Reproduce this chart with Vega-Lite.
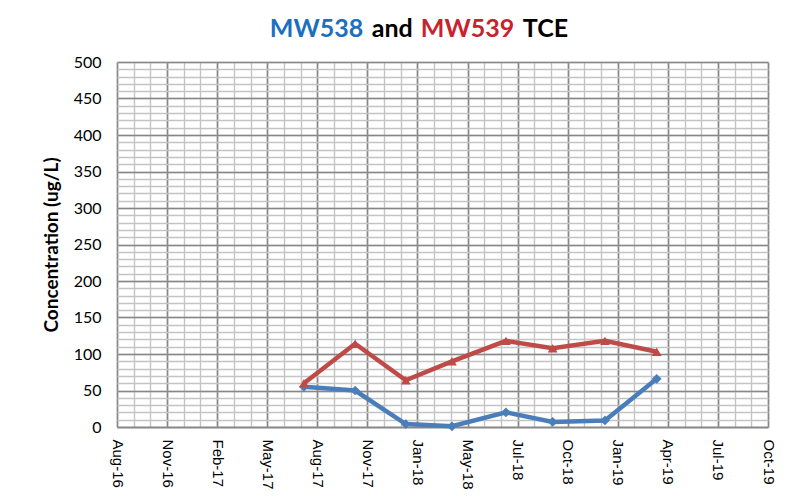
{
  "$schema": "https://vega.github.io/schema/vega-lite/v6.json",
  "padding": {"left": 42, "top": 16, "right": 10, "bottom": 5},
  "background": "white",
  "config": {"view": {"stroke": null}, "font": "Liberation Sans"},
  "datasets": {
    "conc": [
      {"date": "2017-07-11", "well": "MW538", "value": 55},
      {"date": "2017-10-11", "well": "MW538", "value": 50},
      {"date": "2018-01-10", "well": "MW538", "value": 4},
      {"date": "2018-04-03", "well": "MW538", "value": 1},
      {"date": "2018-07-09", "well": "MW538", "value": 20},
      {"date": "2018-10-01", "well": "MW538", "value": 7},
      {"date": "2019-01-03", "well": "MW538", "value": 9},
      {"date": "2019-04-06", "well": "MW538", "value": 66},
      {"date": "2017-07-11", "well": "MW539", "value": 60},
      {"date": "2017-10-11", "well": "MW539", "value": 114},
      {"date": "2018-01-10", "well": "MW539", "value": 64},
      {"date": "2018-04-03", "well": "MW539", "value": 90},
      {"date": "2018-07-09", "well": "MW539", "value": 118},
      {"date": "2018-10-01", "well": "MW539", "value": 108},
      {"date": "2019-01-03", "well": "MW539", "value": 118},
      {"date": "2019-04-06", "well": "MW539", "value": 103}
    ]
  },
  "center": false,
  "spacing": 6,
  "vconcat": [
    {
      "spacing": 7,
      "hconcat": [
        {"width": 145, "height": 1, "data": {"name": "conc"}, "mark": {"type": "point", "opacity": 0}},
        {"width": 1, "height": 1, "data": {"name": "conc"}, "mark": {"type": "point", "opacity": 0},
         "title": {"text": "MW538", "color": "#1A6FBF", "anchor": "start", "fontSize": 25, "font": "Lato", "fontWeight": "bold", "offset": 0}},
        {"width": 1, "height": 1, "data": {"name": "conc"}, "mark": {"type": "point", "opacity": 0},
         "title": {"text": "and", "color": "#000000", "anchor": "start", "fontSize": 25, "font": "Lato", "fontWeight": "bold", "offset": 0}},
        {"width": 1, "height": 1, "data": {"name": "conc"}, "mark": {"type": "point", "opacity": 0},
         "title": {"text": "MW539", "color": "#C8232C", "anchor": "start", "fontSize": 25, "font": "Lato", "fontWeight": "bold", "offset": 0}},
        {"width": 1, "height": 1, "data": {"name": "conc"}, "mark": {"type": "point", "opacity": 0},
         "title": {"text": "TCE", "color": "#000000", "anchor": "start", "fontSize": 25, "font": "Lato", "fontWeight": "bold", "offset": 0}}
      ]
    },
    {
      "width": 651,
      "height": 365,
      "data": {"name": "conc"},
      "layer": [
        {
          "mark": {"type": "line", "strokeWidth": 4.5},
          "encoding": {
            "x": {"field": "date", "type": "temporal",
                  "scale": {"type": "utc", "domain": [1470700800000, 1571788800000]},
                  "axis": {"orient": "bottom", "values": [1470700800000,1473292800000,1475884800000,1478476800000,1481068800000,1483660800000,1486252800000,1488844800000,1491436800000,1494028800000,1496620800000,1499212800000,1501804800000,1504396800000,1506988800000,1509580800000,1512172800000,1514764800000,1517356800000,1519948800000,1522540800000,1525132800000,1527724800000,1530316800000,1532908800000,1535500800000,1538092800000,1540684800000,1543276800000,1545868800000,1548460800000,1551052800000,1553644800000,1556236800000,1558828800000,1561420800000,1564012800000,1566604800000,1569196800000,1571788800000],
                           "grid": true, "gridColor": "#c4c4c4", "gridWidth": 1.4, "labels": false, "ticks": false, "domain": false, "title": null}},
            "y": {"field": "value", "type": "quantitative",
                  "scale": {"domain": [0, 500], "nice": false},
                  "axis": {"orient": "left", "values": [0,10,20,30,40,50,60,70,80,90,100,110,120,130,140,150,160,170,180,190,200,210,220,230,240,250,260,270,280,290,300,310,320,330,340,350,360,370,380,390,400,410,420,430,440,450,460,470,480,490,500],
                           "grid": true, "gridColor": "#c4c4c4", "gridWidth": 1.4, "labels": false, "ticks": false, "domain": false, "title": null}},
            "color": {"field": "well", "type": "nominal", "scale": {"domain": ["MW538", "MW539"], "range": ["#4A7EBB", "#BE4B48"]}, "legend": null}
          }
        },
        {
          "mark": {"type": "point", "filled": true, "opacity": 1},
          "encoding": {
            "x": {"field": "date", "type": "temporal",
                  "scale": {"type": "utc", "domain": [1470700800000, 1571788800000]},
                  "axis": {"orient": "bottom", "values": [1470700800000,1478476800000,1486252800000,1494028800000,1501804800000,1509580800000,1517356800000,1525132800000,1532908800000,1540684800000,1548460800000,1556236800000,1564012800000,1571788800000],
                           "format": "%b-%y", "labelAngle": 90, "grid": true, "gridColor": "#878787", "gridWidth": 1.6,
                           "ticks": false, "domain": true, "domainColor": "#878787", "domainWidth": 1.6,
                           "labelFont": "Liberation Sans", "labelFontSize": 15, "labelColor": "#000000", "labelPadding": 12, "labelOverlap": false, "title": null}},
            "y": {"field": "value", "type": "quantitative",
                  "scale": {"domain": [0, 500], "nice": false},
                  "axis": {"orient": "left", "values": [0,50,100,150,200,250,300,350,400,450,500],
                           "grid": true, "gridColor": "#878787", "gridWidth": 1.6, "ticks": false, "domain": false,
                           "labelFont": "Lato", "labelFontSize": 16, "labelPadding": 16, "labelColor": "#000000",
                           "title": "Concentration (ug/L)", "titleFont": "Lato", "titleFontSize": 19, "titleFontWeight": "bold", "titleColor": "#000000", "titlePadding": 12}},
            "color": {"field": "well", "type": "nominal", "scale": {"domain": ["MW538", "MW539"], "range": ["#4A7EBB", "#BE4B48"]}, "legend": null},
            "shape": {"field": "well", "type": "nominal", "scale": {"domain": ["MW538", "MW539"], "range": ["diamond", "triangle-up"]}, "legend": null},
            "size": {"value": 95}
          }
        }
      ],
      "resolve": {"axis": {"x": "independent", "y": "independent"}}
    }
  ]
}
